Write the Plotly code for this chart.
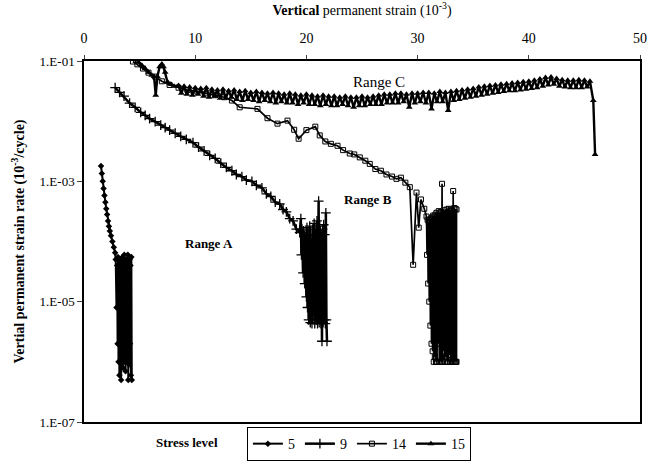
import plotly.graph_objects as go

# ---------------- data ----------------
# Stress level 5 (diamonds)
x5 = [1.53, 1.60, 1.68, 1.76, 1.84, 1.92, 2.00, 2.08, 2.16, 2.24, 2.32, 2.43, 2.55, 2.68, 2.80,
      2.85, 2.92, 2.98, 3.02, 3.06, 3.10, 3.14, 3.18, 3.22, 3.26, 3.30, 3.34, 3.38, 3.42, 3.46,
      3.50, 3.54, 3.58, 3.62, 3.66, 3.70, 3.74, 3.78, 3.82, 3.86, 3.90, 3.94, 3.98, 4.02, 4.06,
      4.10, 4.14, 4.18, 4.22, 4.26, 4.30]
y5 = [1.8e-3, 1.35e-3, 1.0e-3, 7.6e-4, 5.8e-4, 4.5e-4, 3.5e-4, 2.8e-4, 2.2e-4, 1.8e-4, 1.5e-4, 1.25e-4, 1.0e-4, 8.0e-5, 6.5e-5,
      5.0e-5, 8e-6, 4.0e-5, 2e-6, 5.5e-5, 1e-6, 3.0e-5, 6e-7, 5.0e-5, 3e-6, 4.5e-5, 5e-7, 2.0e-5, 1.5e-6, 5.5e-5,
      8e-7, 3.5e-5, 4e-6, 6.0e-5, 1e-6, 2.5e-5, 7e-7, 5.0e-5, 2e-6, 4.0e-5, 1e-6, 6.0e-5, 5e-7, 3.0e-5, 9e-7,
      5.0e-5, 2e-6, 4.0e-5, 6e-7, 5.5e-5, 5e-7]

# Stress level 9 (plus)
x9 = [2.8, 3.2, 3.6, 4.1, 4.6, 5.1, 5.5, 5.9, 6.4, 6.9, 7.3, 7.7, 8.2, 8.7, 9.2, 9.8, 10.3, 10.8,
      11.3, 11.8, 12.3, 12.8, 13.3, 13.7, 14.2, 14.6, 15.1, 15.5, 16.0, 16.4, 16.8, 17.2, 17.6, 17.9,
      18.2, 18.5, 18.8, 19.1, 19.4,
      19.5, 19.55, 19.6, 19.7, 19.75, 19.85, 19.9, 20.0, 20.05, 20.1, 20.15, 20.2, 20.3, 20.35, 20.4,
      20.5, 20.55, 20.6, 20.7, 20.75, 20.8, 20.9, 20.95, 21.0, 21.05, 21.1, 21.15, 21.2, 21.3, 21.35,
      21.4, 21.45, 21.5, 21.55, 21.6, 21.65, 21.7, 21.75, 21.8, 21.85]
y9 = [3.6e-2, 3.0e-2, 2.6e-2, 2.0e-2, 1.7e-2, 1.4e-2, 1.25e-2, 1.1e-2, 9.8e-3, 8.6e-3, 7.8e-3, 7.1e-3,
      6.3e-3, 5.6e-3, 5.0e-3, 4.4e-3, 3.7e-3, 3.2e-3, 2.7e-3, 2.4e-3, 2.0e-3, 1.7e-3, 1.5e-3, 1.3e-3,
      1.2e-3, 1.05e-3, 1.0e-3, 8.6e-4, 7.8e-4, 6.2e-4, 5.6e-4, 4.5e-4, 4.2e-4, 3.4e-4, 3.1e-4, 2.4e-4,
      2.2e-4, 1.6e-4, 1.4e-4,
      2.4e-4, 6e-5, 1.6e-4, 3e-5, 1.5e-4, 2e-5, 1.2e-4, 1.2e-5, 1.7e-4, 8e-6, 1.3e-4, 5e-6, 1.8e-4,
      4.5e-6, 1.1e-4, 4.3e-6, 1.6e-4, 6e-6, 2.0e-4, 4.3e-6, 1.3e-4, 5e-6, 2.2e-4, 4.3e-6, 1.5e-4,
      4.7e-4, 4.5e-6, 1.8e-4, 4.3e-6, 1.2e-4, 2.2e-6, 1.6e-4, 4.5e-6, 1.9e-4, 5e-6, 1.3e-4, 4.3e-6,
      3.0e-4, 5e-6, 2.2e-6]

# Stress level 14 (squares)
x14 = [4.4, 4.8, 5.3, 5.8, 6.4, 7.0, 7.7, 8.5, 9.3, 10.2, 11.0, 11.8, 12.6, 13.3, 14.0, 15.6, 16.5,
       17.4, 18.3, 18.9, 19.3, 20.0, 20.8, 21.2, 21.7, 22.2, 22.8, 23.3, 23.9, 24.3, 24.8, 25.3, 25.7,
       26.2, 26.7, 27.2, 27.7, 28.1, 28.5, 28.9, 29.3, 29.6, 29.9, 30.1, 30.3, 30.6,
       30.80, 30.85, 30.90, 30.95, 31.00, 31.05, 31.10, 31.15, 31.20, 31.25, 31.30, 31.35, 31.40,
       31.45, 31.50, 31.55, 31.60, 31.65, 31.70, 31.75, 31.80, 31.85, 31.90, 31.95, 32.00, 32.05,
       32.10, 32.15, 32.20, 32.25, 32.30, 32.35, 32.40, 32.45, 32.50, 32.55, 32.60, 32.65, 32.70,
       32.75, 32.80, 32.85, 32.90, 32.95, 33.00, 33.05, 33.10, 33.15, 33.20, 33.25, 33.30, 33.35,
       33.40, 33.45, 33.50, 33.50]
y14 = [9.8e-2, 8.8e-2, 7.5e-2, 6.4e-2, 5.5e-2, 4.6e-2, 4.0e-2, 3.6e-2, 3.3e-2, 3.1e-2, 2.9e-2, 2.7e-2,
       2.5e-2, 2.2e-2, 1.7e-2, 1.6e-2, 1.12e-2, 9.1e-3, 1.02e-2, 7.2e-3, 5.1e-3, 7.1e-3, 8.1e-3, 5.8e-3,
       4.6e-3, 4.2e-3, 3.9e-3, 3.3e-3, 2.9e-3, 2.8e-3, 2.5e-3, 2.2e-3, 1.95e-3, 1.6e-3, 1.5e-3, 1.3e-3,
       1.2e-3, 1.1e-3, 1.15e-3, 9.5e-4, 8.0e-4, 4.1e-5, 6.5e-4, 1.7e-4, 5.0e-4, 3.5e-4,
       2.6e-4, 6e-5, 2.3e-4, 2e-5, 2.1e-4, 1e-5, 2.3e-4, 4e-6, 2.4e-4, 2e-6, 2.5e-4, 1.5e-6, 2.7e-4,
       1e-6, 2.6e-4, 1.2e-6, 2.8e-4, 1e-6, 3.0e-4, 1e-6, 2.7e-4, 2e-6, 3.2e-4, 1e-6, 3.0e-4, 1e-6,
       3.1e-4, 1e-6, 9.1e-4, 1e-6, 3.0e-4, 1.5e-6, 3.3e-4, 1e-6, 2.9e-4, 1.2e-6, 3.4e-4, 1e-6,
       3.1e-4, 1e-6, 3.5e-4, 1.3e-6, 3.2e-4, 1e-6, 3.4e-4, 1e-6, 3.3e-4, 1e-6, 6.9e-4, 1e-6,
       3.6e-4, 1e-6, 3.5e-4, 1e-6, 3.4e-4, 1e-6]

# Stress level 15 (triangles)
x15 = [4.9, 5.2, 5.5, 5.8, 6.1, 6.3, 6.45, 6.6, 6.8, 7.0, 7.15, 7.3, 7.5, 7.8, 8.1,
       8.5, 8.75, 9.0, 9.25, 9.5, 9.75, 10.0, 10.25,
       10.5, 10.75, 11.0, 11.25, 11.5, 11.75, 12.0, 12.25,
       12.5, 12.75, 13.0, 13.25, 13.5, 13.75, 14.0, 14.25,
       14.5, 14.75, 15.0, 15.25, 15.5, 15.75, 16.0, 16.25,
       16.5, 16.75, 17.0, 17.25, 17.5, 17.75, 18.0, 18.25,
       18.5, 18.75, 19.0, 19.25, 19.5, 19.75, 20.0, 20.25,
       20.5, 20.75, 21.0, 21.25, 21.5, 21.75, 22.0, 22.25,
       22.5, 22.75, 23.0, 23.25, 23.5, 23.75, 24.0, 24.25,
       24.5, 24.75, 25.0, 25.25, 25.5, 25.75, 26.0, 26.25,
       26.5, 26.75, 27.0, 27.25, 27.5, 27.75, 28.0, 28.25,
       28.5, 28.75, 29.0, 29.25, 29.5, 29.75, 30.0, 30.25,
       30.5, 30.75, 31.0, 31.25, 31.5, 31.75, 32.0, 32.25,
       32.5, 32.75, 33.0, 33.25, 33.5, 33.75, 34.0, 34.25,
       34.5, 34.75, 35.0, 35.25, 35.5, 35.75, 36.0, 36.25,
       36.5, 36.75, 37.0, 37.25, 37.5, 37.75, 38.0, 38.25,
       38.5, 38.75, 39.0, 39.25, 39.5, 39.75, 40.0, 40.25,
       40.5, 40.75, 41.0, 41.25, 41.5, 41.75, 42.0, 42.25,
       42.5, 42.75, 43.0, 43.25, 43.5, 43.75, 44.0, 44.25,
       44.5, 44.75, 45.0, 45.25, 45.5, 45.8, 45.96]
y15 = [9.5e-2, 8.5e-2, 7.5e-2, 6.5e-2, 5.8e-2, 5.5e-2, 2.7e-2, 5.5e-2, 8.0e-2, 8.9e-2, 8.0e-2, 6.5e-2,
       4.5e-2, 4.1e-2, 3.8e-2,
       3.9e-2, 2.9e-2, 3.8e-2, 2.8e-2, 3.7e-2, 2.7e-2, 3.6e-2, 2.8e-2,
       3.5e-2, 2.6e-2, 3.6e-2, 2.5e-2, 3.4e-2, 2.6e-2, 3.3e-2, 2.4e-2,
       3.4e-2, 2.4e-2, 3.2e-2, 2.5e-2, 3.3e-2, 2.3e-2, 3.1e-2, 2.2e-2,
       3.2e-2, 2.3e-2, 3.0e-2, 2.2e-2, 3.1e-2, 2.1e-2, 3.0e-2, 2.2e-2,
       2.9e-2, 2.1e-2, 3.0e-2, 2.0e-2, 2.9e-2, 2.1e-2, 2.8e-2, 2.0e-2,
       2.9e-2, 2.0e-2, 2.8e-2, 1.9e-2, 2.7e-2, 2.0e-2, 2.8e-2, 1.9e-2,
       2.7e-2, 1.9e-2, 2.6e-2, 1.8e-2, 2.7e-2, 1.9e-2, 2.6e-2, 1.8e-2,
       2.6e-2, 1.8e-2, 2.5e-2, 1.9e-2, 2.6e-2, 1.8e-2, 2.5e-2, 1.7e-2,
       2.5e-2, 1.8e-2, 2.6e-2, 1.8e-2, 2.5e-2, 1.9e-2, 2.6e-2, 1.9e-2,
       2.7e-2, 1.9e-2, 2.8e-2, 2.0e-2, 2.8e-2, 2.0e-2, 2.9e-2, 2.0e-2,
       2.9e-2, 2.1e-2, 2.8e-2, 1.7e-2, 2.9e-2, 2.0e-2, 2.9e-2, 2.1e-2,
       3.0e-2, 2.0e-2, 3.0e-2, 1.6e-2, 2.9e-2, 2.1e-2, 3.1e-2, 2.1e-2,
       3.0e-2, 1.5e-2, 3.1e-2, 2.2e-2, 3.2e-2, 2.3e-2, 3.3e-2, 2.4e-2,
       3.4e-2, 2.5e-2, 3.5e-2, 2.6e-2, 3.7e-2, 2.7e-2, 3.8e-2, 2.8e-2,
       3.9e-2, 2.9e-2, 4.0e-2, 3.0e-2, 4.1e-2, 3.1e-2, 4.2e-2, 3.2e-2,
       4.3e-2, 3.2e-2, 4.4e-2, 3.3e-2, 4.5e-2, 3.4e-2, 4.6e-2, 3.5e-2,
       4.8e-2, 3.6e-2, 5.0e-2, 3.8e-2, 5.3e-2, 4.0e-2, 5.4e-2, 4.1e-2,
       5.1e-2, 3.8e-2, 4.9e-2, 3.7e-2, 4.8e-2, 3.6e-2, 4.8e-2, 3.6e-2,
       4.9e-2, 3.6e-2, 4.8e-2, 3.7e-2, 4.6e-2, 2.2e-2, 2.8e-3]

x_ticks = [0, 10, 20, 30, 40, 50]
y_tickvals = [1e-1, 1e-3, 1e-5, 1e-7]
y_ticktext = ["1.E-01", "1.E-03", "1.E-05", "1.E-07"]

FONT = "Liberation Serif"

fig = go.Figure()
series = [
    ("5", x5, y5, 2.0, dict(symbol="diamond", size=5, color="black")),
    ("9", x9, y9, 2.5, dict(symbol="cross-thin", size=7, color="black", line=dict(width=1.3, color="black"))),
    ("14", x14, y14, 1.7, dict(symbol="square-open", size=5, color="black", line=dict(width=1, color="black"))),
    ("15", x15, y15, 2.4, dict(symbol="triangle-up", size=6, color="black")),
]
for name, xs, ys, lw, mk in series:
    fig.add_trace(go.Scatter(x=xs, y=ys, name=name, mode="lines+markers",
                             line=dict(color="black", width=lw), marker=mk))

fig.update_layout(
    width=662, height=463,
    margin=dict(l=84, r=22, t=61, b=41, autoexpand=False),
    paper_bgcolor="white", plot_bgcolor="white",
    font=dict(family=FONT, size=13, color="black"),
    showlegend=True,
    legend=dict(orientation="h", x=0.293, xanchor="left", y=-0.014, yanchor="top",
                bordercolor="black", borderwidth=1, font=dict(size=14, family=FONT),
                itemwidth=30, bgcolor="white"),
    xaxis=dict(side="top", range=[0, 50], tickvals=x_ticks, ticks="outside", ticklen=4,
               ticklabelstandoff=7,
               showline=True, linecolor="black", linewidth=1.5, mirror=True, showgrid=False,
               zeroline=False, tickfont=dict(size=14, family=FONT),
               title=dict(text="<b>Vertical</b> permanent strain (10<sup>-3</sup>)",
                          font=dict(size=14, family=FONT), standoff=13)),
    yaxis=dict(type="log", range=[-7, -1], tickvals=y_tickvals, ticktext=y_ticktext,
               ticks="outside", ticklen=5, showline=True, linecolor="black", linewidth=1.5,
               mirror=True, showgrid=False, zeroline=False, tickfont=dict(size=13, family=FONT),
               title=dict(text="<b>Vertial permanent strain rate (10<sup>-3</sup>/cycle)</b>",
                          font=dict(size=14, family=FONT), standoff=12)),
)

fig.add_annotation(x=11.2, y=-4.04, text="<b>Range A</b>", showarrow=False,
                   font=dict(size=13, family=FONT))
fig.add_annotation(x=25.5, y=-3.31, text="<b>Range B</b>", showarrow=False,
                   font=dict(size=13, family=FONT))
fig.add_annotation(x=26.5, y=-1.35, text="Range C", showarrow=False,
                   font=dict(size=15, family=FONT))
fig.add_annotation(xref="paper", yref="paper", x=(187 - 84) / 556, y=-0.058,
                   text="<b>Stress level</b>", showarrow=False, font=dict(size=13, family=FONT),
                   xanchor="center", yanchor="middle")

fig.write_html("out.html")
